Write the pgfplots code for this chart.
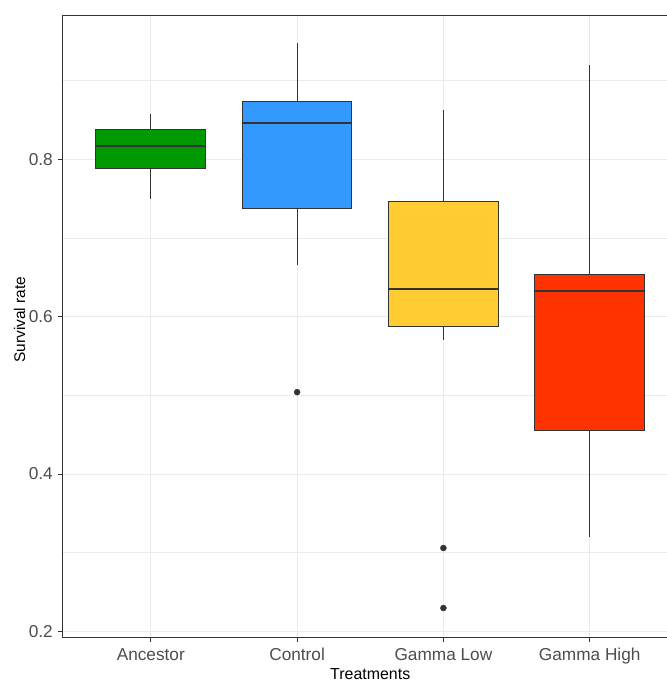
\documentclass[border=0pt]{standalone}
\usepackage{pgfplots}
\pgfplotsset{compat=1.18}
\usepgfplotslibrary{statistics}
\usepackage{fontspec}
\setmainfont{Liberation Sans}
\definecolor{cAnc}{HTML}{009900}
\definecolor{cCtl}{HTML}{3399FF}
\definecolor{cLow}{HTML}{FFCC33}
\definecolor{cHigh}{HTML}{FF3300}
\definecolor{gridc}{HTML}{EBEBEB}
\definecolor{dark}{HTML}{333333}
\definecolor{ticktext}{HTML}{4D4D4D}
\begin{document}
\begin{tikzpicture}
\begin{axis}[
  at={(0,0)}, anchor=south west,
  scale only axis,
  width=614.5bp, height=622bp,
  xmin=0.4, xmax=4.6,
  ymin=0.193, ymax=0.983,
  xtick={1,2,3,4},
  xticklabels={Ancestor,Control,Gamma Low,Gamma High},
  ytick={0.2,0.4,0.6,0.8},
  yticklabels={0.2,0.4,0.6,0.8},
  minor ytick={0.3,0.5,0.7,0.9},
  grid=both,
  major grid style={gridc, line width=1bp},
  minor grid style={gridc, line width=0.6bp},
  minor tick length=0pt,
  major tick length=5bp,
  tick align=outside,
  tick pos=left,
  tick style={dark, line width=0.8bp},
  axis line style={dark, line width=1bp},
  xticklabel style={font=\fontsize{17.3}{18}\selectfont, text=ticktext, anchor=base, inner sep=0pt, yshift=-18.7bp},
  yticklabel style={font=\fontsize{17.3}{18}\selectfont, text=ticktext, anchor=east, inner sep=0pt, xshift=-5bp},
  every axis x label/.style={at={(axis description cs:0.5,-0.069)}, anchor=base, inner sep=0pt, font=\fontsize{16}{18}\selectfont},
  every axis y label/.style={at={(axis description cs:-0.0618,0.51)}, rotate=90, anchor=base, inner sep=0pt, font=\fontsize{15.5}{18}\selectfont},
  xlabel={Treatments},
  ylabel={Survival rate},
  boxplot/draw direction=y,
  boxplot/whisker extend=0,
  boxplot/box extend=0.75,
  boxplot/every box/.style={draw=dark, line width=1bp},
  boxplot/every whisker/.style={draw=dark, line width=1bp},
  boxplot/every median/.style={draw=dark, line width=2bp},
]
\addplot[boxplot prepared={draw position=1,
  lower whisker=0.7496, lower quartile=0.7877, median=0.8165,
  upper quartile=0.8377, upper whisker=0.8568},
  fill=cAnc, draw=dark] coordinates {};
\addplot[boxplot prepared={draw position=2,
  lower whisker=0.6654, lower quartile=0.7369, median=0.8453,
  upper quartile=0.8737, upper whisker=0.947},
  fill=cCtl, draw=dark, mark=*, mark size=3bp,
  mark options={fill=dark, draw=dark}] coordinates {(0,0.504)};
\addplot[boxplot prepared={draw position=3,
  lower whisker=0.5698, lower quartile=0.5875, median=0.6349,
  upper quartile=0.7458, upper whisker=0.862},
  fill=cLow, draw=dark, mark=*, mark size=3bp,
  mark options={fill=dark, draw=dark}] coordinates {(0,0.306) (0,0.2298)};
\addplot[boxplot prepared={draw position=4,
  lower whisker=0.320, lower quartile=0.4559, median=0.632,
  upper quartile=0.654, upper whisker=0.920},
  fill=cHigh, draw=dark] coordinates {};
\end{axis}
\pgfresetboundingbox
\path (-63bp,-45bp) rectangle (604bp,637bp);
\end{tikzpicture}
\end{document}
